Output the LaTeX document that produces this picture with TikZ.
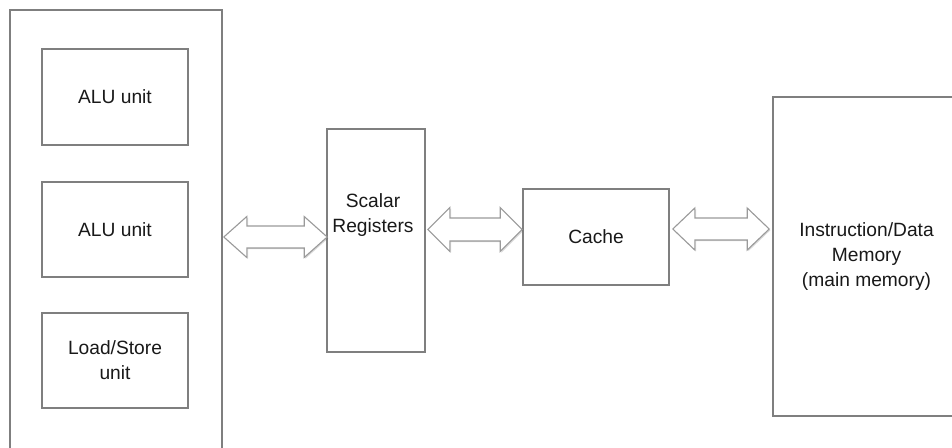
\documentclass[tikz,border=0pt]{standalone}
\usepackage{fontspec}
\setmainfont{Liberation Sans}
\usetikzlibrary{calc,shadows}
\definecolor{edgegray}{HTML}{7F7F7F}
\definecolor{arrowgray}{HTML}{9A9A9A}
% double-headed block arrow between two points:
% #1 left tip, #2 right tip, #3 head length, #4 head half-height, #5 shaft half-height
\newcommand\blockarrow[5]{%
  \draw[blockarrowstyle] (#1) -- ($(#1)+(#3,-#4)$) -- ($(#1)+(#3,-#5)$)
    -- ($(#2)+(-#3,-#5)$) -- ($(#2)+(-#3,-#4)$) -- (#2)
    -- ($(#2)+(-#3,#4)$) -- ($(#2)+(-#3,#5)$)
    -- ($(#1)+(#3,#5)$) -- ($(#1)+(#3,#4)$) -- cycle;}
\begin{document}
\begin{tikzpicture}[x=1pt,y=-1pt,
  labelfont/.style={font=\fontsize{19.2}{25}\selectfont, text=black!90},
  unitbox/.style={draw=edgegray, line width=1.6pt, fill=white, inner sep=0pt,
    align=center, labelfont},
  blockarrowstyle/.style={draw=arrowgray, line width=1.1pt, fill=white, line join=miter,
    drop shadow={shadow xshift=1.2pt, shadow yshift=-1.2pt, opacity=0.25, fill=black!60}}]
\useasboundingbox[fill=white] (0,0) rectangle (952,447);

% processor core (open towards the bottom edge)
\node[unitbox, minimum width=212pt, minimum height=450pt] (core) at (116,235) {};
\node[unitbox, minimum width=146pt, minimum height=96pt] (alu1) at (115,97) {ALU unit};
\node[unitbox, minimum width=146pt, minimum height=95pt] (alu2) at (115,229.5) {ALU unit};
\node[unitbox, minimum width=146pt, minimum height=95pt] (lsu) at (115,360.5) {Load/Store\\unit};

% register file, cache, main memory
\node[unitbox, minimum width=98pt, minimum height=223pt] (regs) at (376,240.5) {};
\node[labelfont, align=center] (regslabel) at (373,215) {Scalar\\Registers};
\node[unitbox, minimum width=146pt, minimum height=96pt] (cache) at (596,237) {Cache};
\node[unitbox, minimum width=187pt, minimum height=319pt] (mem) at (866.5,256.5)
  {Instruction/Data\\Memory\\(main memory)};

% data paths
\coordinate (p1l) at ($(core.east |- 0,237)+(1,0)$);
\coordinate (p1r) at ($(regs.west |- 0,237)+(1,0)$);
\coordinate (p2l) at ($(regs.east |- 0,229.5)+(2,0)$);
\coordinate (p2r) at (cache.west |- 0,229.5);
\coordinate (p3l) at ($(cache.east |- 0,229)+(3,0)$);
\coordinate (p3r) at ($(mem.west |- 0,229)+(-3,0)$);
\blockarrow{p1l}{p1r}{23}{20.5}{11}
\blockarrow{p2l}{p2r}{22}{22}{11.5}
\blockarrow{p3l}{p3r}{22}{21}{11}
\end{tikzpicture}
\end{document}
